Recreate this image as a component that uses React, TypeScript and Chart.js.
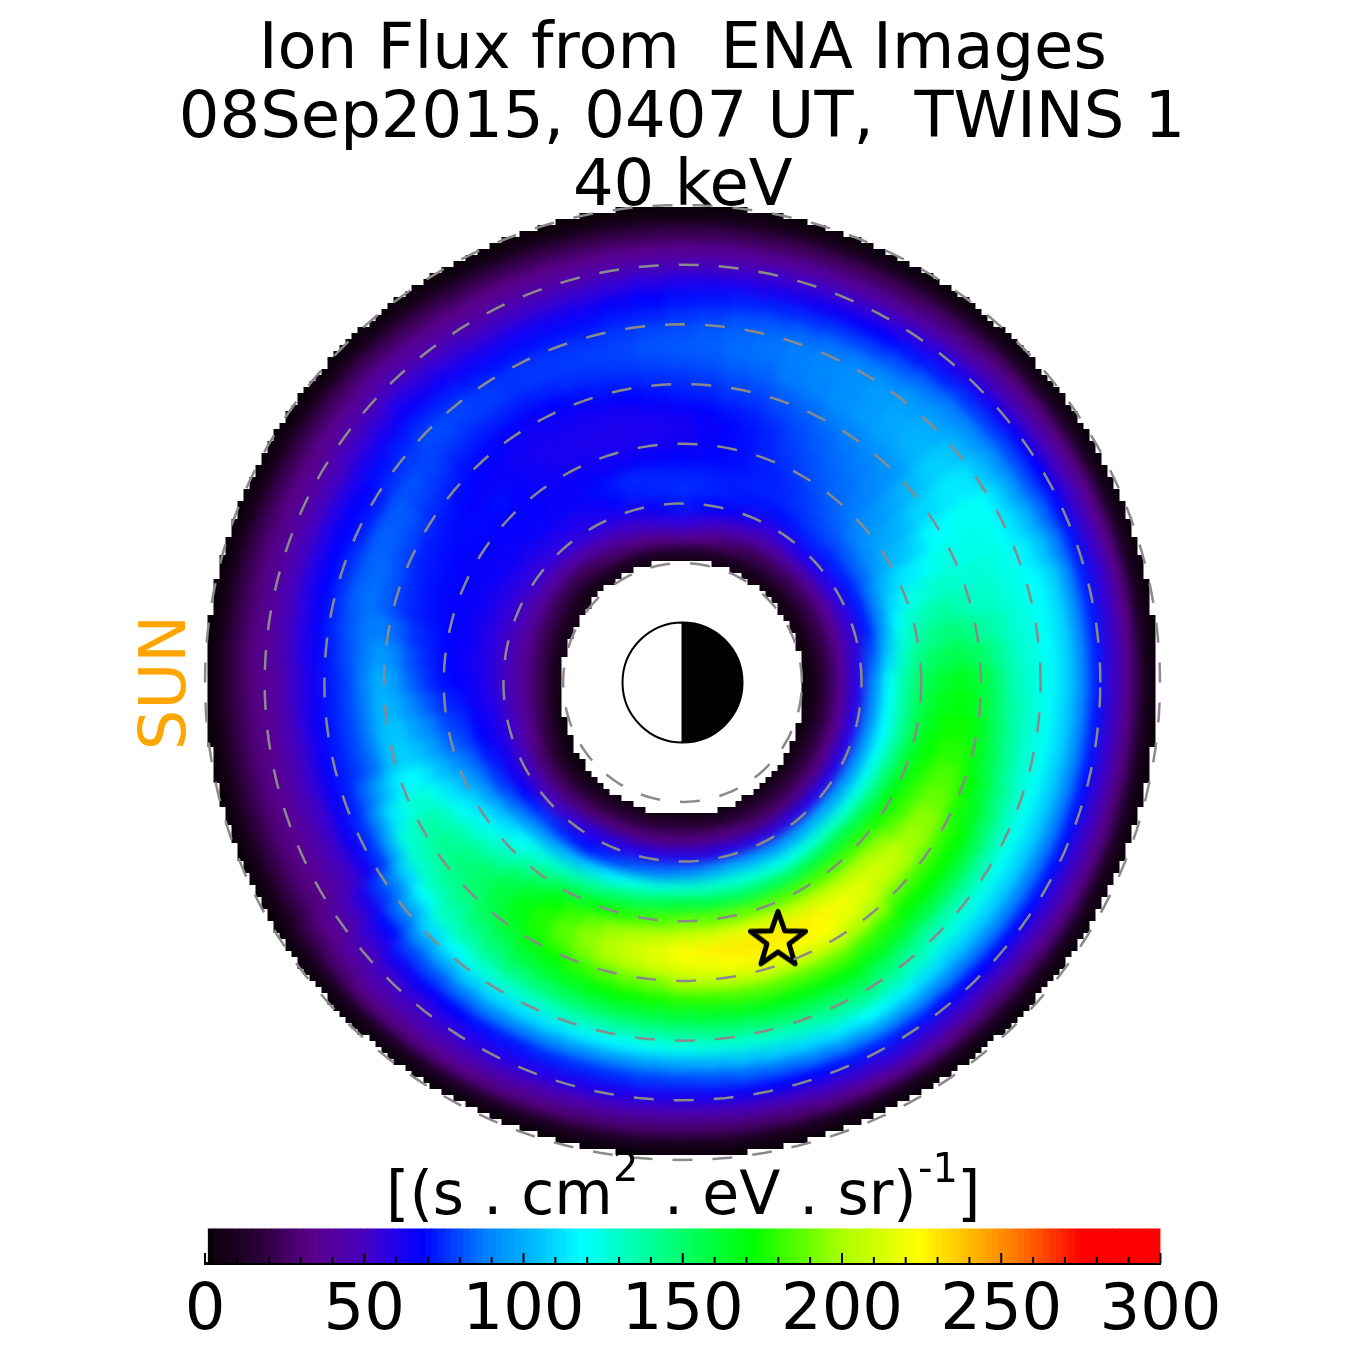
import React, { useEffect, useRef } from "react";
import { Chart, registerables } from "chart.js";

Chart.register(...registerables);

const FONT = "'DejaVu Sans'";
const titleLines = ["Ion Flux from  ENA Images", "", "40 keV"];
const titleSecondLine = "08Sep2015, 0407 UT,  TWINS 1";
const sunLabel = "SUN";
const unitParts = ["[(s . cm", "2", " . eV . sr)", "-1", "]"];
const colorTicks = [0, 50, 100, 150, 200, 250, 300];
const lShells = [2, 3, 4, 5, 6, 7, 8];
const starPos = [1.6, -4.32];

const cmapValues = [0, 4, 18, 34, 50, 58, 68, 88, 104, 118, 145, 172, 200, 224, 245, 260, 275, 300];
const cmapColors = [
  [0, 0, 0], [16, 0, 16], [45, 0, 60], [90, 0, 140], [70, 0, 190], [40, 0, 230], [0, 0, 255],
  [0, 128, 255], [0, 190, 255], [0, 255, 255], [0, 255, 128], [0, 255, 0], [170, 255, 0],
  [255, 255, 0], [255, 165, 0], [255, 90, 0], [255, 0, 0], [255, 0, 0],
];

// Flux per ring (radius in px of the picture), one value per 5 degrees clockwise from the top
const ring112 = [4,4,4,4,4,4,4,4,4,4,4,4,4,4,4,4,4,4,4,4,4,4,4,4,2,2,2,2,2,2,2,2,2,2,2,2,2,2,2,2,2,2,2,2,2,2,2,2,2,2,2,2,2,4,4,4,4,4,4,4,4,4,4,4,4,4,4,4,4,4,4,4];
const ring128 = [10,9,9,8,8,7,7,6,6,5,5,5,5,5,4,4,4,3,3,3,3,3,3,3,3,2,2,2,2,2,2,2,2,2,2,2,2,2,2,2,1,1,2,2,2,2,2,2,2,3,3,4,5,7,8,8,8,8,8,8,8,7,6,6,7,8,8,8,8,8,9,10];
const ring144 = [38,35,33,30,27,24,22,22,22,22,21,21,20,20,20,20,19,19,18,17,17,16,16,15,15,15,14,14,14,14,14,13,13,12,13,14,15,15,14,14,14,14,14,13,11,10,11,11,12,15,19,22,23,24,25,25,24,24,23,23,22,21,21,20,23,25,28,29,31,32,34,36];
const ring160 = [58,55,53,50,47,45,42,42,42,42,40,38,36,36,36,36,37,37,38,37,36,35,34,33,32,31,31,30,29,29,28,29,31,32,32,32,32,32,32,32,31,31,30,29,29,28,28,28,28,31,35,38,38,38,38,38,38,38,38,38,38,39,39,40,42,44,46,48,50,52,54,56];
const ring176 = [72,70,68,66,63,59,56,58,60,62,61,59,58,56,55,54,55,57,58,58,58,58,58,58,58,58,58,58,57,56,55,56,57,58,58,58,58,58,58,58,58,58,58,55,53,50,50,50,50,51,51,52,51,51,50,50,50,50,51,51,52,53,54,55,56,57,58,59,61,62,65,69];
const ring192 = [75,74,73,72,71,71,70,71,73,74,73,73,72,72,72,72,78,84,90,91,91,92,93,94,95,97,98,100,98,97,95,97,98,100,97,93,90,87,85,82,78,74,70,72,74,76,72,68,64,63,63,62,61,59,58,57,57,56,57,57,58,59,59,60,61,61,62,65,69,72,73,74];
const ring208 = [73,73,72,72,73,73,74,76,78,80,81,83,84,88,91,95,103,110,118,118,118,118,119,121,122,125,127,130,127,125,122,124,126,128,129,129,130,127,125,122,116,111,105,102,98,95,89,84,78,75,71,68,67,65,64,63,63,62,63,63,64,65,65,66,66,66,66,69,71,74,74,73];
const ring224 = [68,69,69,70,72,73,75,78,81,84,88,91,95,103,110,118,125,131,138,139,139,140,143,147,150,153,157,160,158,157,155,155,155,155,157,158,160,157,153,150,145,140,135,129,124,118,110,103,95,89,84,78,75,71,68,67,67,66,66,66,66,66,67,67,67,66,66,66,66,66,67,67];
const ring240 = [64,66,68,70,73,75,78,81,84,87,92,97,102,111,121,130,137,145,152,155,157,160,164,168,172,175,179,182,183,184,185,186,187,188,188,188,188,184,180,176,170,164,158,148,138,128,122,116,110,101,93,84,79,75,70,69,69,68,67,67,66,67,67,68,67,65,64,63,63,62,63,63];
const ring256 = [62,65,67,70,73,77,80,83,85,88,94,99,105,115,125,135,143,152,160,164,168,172,175,179,182,187,197,202,204,207,209,211,214,216,214,212,210,205,201,196,188,180,172,161,151,140,133,127,120,112,103,95,89,82,76,74,72,70,69,69,68,69,69,70,67,65,62,61,61,60,61,61];
const ring272 = [66,68,70,72,75,79,82,85,87,90,97,103,110,119,129,138,147,156,165,169,174,178,184,189,195,199,208,212,217,221,226,228,229,229,228,226,224,217,211,204,196,187,178,169,159,150,144,138,132,123,113,104,97,91,84,80,76,72,71,71,70,69,67,66,65,63,62,62,62,62,63,65];
const ring288 = [72,73,75,76,79,81,84,87,89,92,101,109,118,124,129,135,145,155,165,169,174,178,184,189,195,197,202,204,211,217,224,225,225,226,223,219,216,211,205,200,192,184,176,167,159,150,146,142,138,128,118,108,106,100,96,90,83,76,75,73,72,71,69,68,67,65,64,65,65,66,68,70];
const ring304 = [76,77,79,80,83,85,88,90,93,95,103,110,118,122,126,130,139,149,158,161,165,168,172,176,180,182,183,185,196,202,209,209,209,209,206,202,199,191,188,184,179,173,168,160,153,145,141,136,132,123,113,104,104,102,100,95,88,82,81,79,78,75,73,70,69,67,66,68,70,72,73,75];
const ring320 = [80,81,83,84,87,89,92,95,97,100,107,113,120,123,127,130,135,140,145,148,152,155,161,166,172,172,172,172,177,181,186,186,185,185,183,180,178,175,173,170,166,162,158,151,145,138,134,129,125,112,99,86,87,87,88,87,87,86,85,83,82,79,77,74,73,73,72,73,75,76,77,79];
const ring336 = [82,83,85,86,88,90,92,95,99,102,108,114,120,122,124,126,128,130,132,135,137,140,145,150,155,156,157,158,162,166,170,169,169,168,165,163,160,158,157,155,152,148,145,140,135,130,119,109,98,91,85,78,78,78,78,80,82,84,83,83,82,81,79,78,77,77,76,77,77,78,79,81];
const ring352 = [80,82,84,86,88,90,92,95,97,100,106,112,118,119,121,122,123,125,126,127,127,128,131,133,136,137,137,138,144,149,155,153,152,150,147,145,142,140,137,135,133,130,128,125,118,112,100,88,76,75,73,72,72,72,72,73,75,76,75,73,72,75,77,80,79,77,76,76,76,76,77,79];
const ring368 = [75,77,80,82,84,86,88,90,93,95,99,104,108,111,115,118,119,119,120,120,120,120,120,120,120,122,123,125,130,135,140,137,133,130,127,125,122,120,117,115,113,112,110,107,100,94,84,77,64,65,65,66,65,65,64,65,67,68,68,68,68,70,72,74,73,71,70,70,70,70,72,73];
const ring384 = [70,71,73,74,75,77,78,81,85,88,90,93,95,100,105,110,110,110,110,109,109,108,108,108,108,108,108,108,111,115,118,115,111,108,105,101,98,96,94,92,91,89,88,85,81,78,69,61,52,53,53,54,54,55,55,57,58,60,60,60,60,62,64,66,65,63,62,63,63,64,66,68];
const ring400 = [60,61,61,62,64,66,68,71,73,76,77,79,80,84,88,92,92,92,92,91,91,90,89,89,88,88,88,88,90,93,95,92,88,85,83,80,78,77,75,74,73,71,70,68,66,64,57,51,44,44,44,44,44,44,44,46,48,50,50,50,50,53,55,58,56,54,52,53,53,54,56,58];
const ring416 = [48,49,51,52,53,54,55,57,60,62,64,66,68,69,71,72,72,72,72,71,71,70,70,70,70,69,69,68,69,71,72,71,69,68,66,64,62,61,61,60,59,59,58,56,54,52,47,41,36,36,36,36,36,36,36,37,39,40,40,40,40,43,45,48,46,44,42,43,43,44,45,47];
const ring432 = [36,37,37,38,39,39,40,42,44,46,47,49,50,52,53,55,54,53,52,52,52,52,52,52,52,51,51,50,52,53,55,53,52,50,49,47,46,46,46,46,46,47,47,46,45,44,39,35,30,30,30,30,30,30,30,31,31,32,32,33,33,35,36,38,37,35,34,34,34,34,35,35];
const ring448 = [22,23,23,24,24,25,25,27,28,30,31,32,33,34,34,35,34,33,32,32,32,32,33,33,34,33,31,30,32,34,36,34,32,30,29,29,28,29,29,30,31,32,33,33,32,32,28,24,20,20,20,20,20,20,20,21,21,22,22,22,22,23,24,25,24,23,22,22,22,22,22,22];
const ring464 = [6,6,7,7,7,8,8,8,8,8,8,8,8,8,8,8,8,8,8,8,8,8,8,8,8,8,8,8,8,8,8,8,8,8,8,8,8,8,8,8,8,8,8,8,8,8,8,8,6,6,6,6,6,6,6,6,6,6,6,6,6,6,6,7,7,7,6,6,6,6,6,6];
const ring480 = [1,1,1,1,1,1,1,1,1,1,1,1,1,1,1,1,1,1,1,1,1,1,1,1,1,1,1,1,1,1,1,1,1,1,1,1,1,1,1,1,1,1,1,1,1,1,1,1,1,1,1,1,1,1,1,1,1,1,1,1,1,1,1,1,1,1,1,1,1,1,1,1];
const ringsOuterFirst = [ring480, ring464, ring448, ring432, ring416, ring400, ring384, ring368, ring352, ring336, ring320, ring304, ring288, ring272, ring256, ring240, ring224, ring208, ring192, ring176, ring160, ring144, ring128, ring112];

function fluxColor(v: number): string {
  let i = 0;
  while (i < cmapValues.length - 2 && v > cmapValues[i + 1]) i++;
  const t = Math.min(1, Math.max(0, (v - cmapValues[i]) / (cmapValues[i + 1] - cmapValues[i])));
  const a = cmapColors[i], b = cmapColors[i + 1];
  return `rgb(${Math.round(a[0] + (b[0] - a[0]) * t)},${Math.round(a[1] + (b[1] - a[1]) * t)},${Math.round(a[2] + (b[2] - a[2]) * t)})`;
}

// The image is made of small cells, so its rim is a staircase
function cellMask(): string {
  const cx = 681.5, cy = 681, cell = 6, half = 80;
  let d = "";
  for (let j = -half; j < half; j++) {
    let start: number | null = null;
    for (let i = -half; i <= half; i++) {
      const dx = (i + 0.5) * cell, dy = (j + 0.5) * cell;
      const hx = (cx + dx - 682) / 121, hy = (cy + dy - 688) / 128;
      const on = i < half && Math.hypot(dx, dy) <= 476 && hx * hx + hy * hy > 1;
      if (on && start === null) start = i;
      if (!on && start !== null) {
        d += `M${cx + start * cell} ${cy + j * cell}H${cx + i * cell}V${cy + (j + 1) * cell}H${cx + start * cell}Z`;
        start = null;
      }
    }
  }
  return `path("${d}")`;
}

function makeStar(): HTMLCanvasElement {
  const c = document.createElement("canvas");
  c.width = 76; c.height = 76;
  const g = c.getContext("2d")!;
  g.beginPath();
  for (let i = 0; i < 10; i++) {
    const r = i % 2 === 0 ? 29 : 11.6;
    const a = (i * Math.PI) / 5 - Math.PI / 2;
    const x = 38 + r * Math.cos(a), y = 38 + r * Math.sin(a);
    if (i === 0) g.moveTo(x, y); else g.lineTo(x, y);
  }
  g.closePath();
  g.lineWidth = 5; g.lineJoin = "round"; g.strokeStyle = "#000";
  g.stroke();
  return c;
}

const SIZE = 1365;
const baseOpts = { animation: false as const, responsive: false, devicePixelRatio: 1, events: [] as string[] };
const noPlugins = { legend: { display: false }, tooltip: { enabled: false } };

export default function App() {
  const heatRef = useRef<HTMLCanvasElement>(null);
  const earthRef = useRef<HTMLCanvasElement>(null);
  const overlayRef = useRef<HTMLCanvasElement>(null);
  const barRef = useRef<HTMLCanvasElement>(null);

  useEffect(() => {
    Chart.defaults.font.family = FONT;

    const heat = new Chart(heatRef.current!, {
      type: "doughnut",
      data: {
        labels: ring128.map((_, i) => String(i * 5)),
        datasets: ringsOuterFirst.map((ring) => ({
          data: ring.map(() => 1),
          backgroundColor: ring.map(fluxColor),
          borderColor: ring.map(fluxColor),
          borderWidth: 1,
        })),
      },
      options: {
        ...baseOpts,
        rotation: -2.5,
        radius: 488,
        cutout: 104,
        layout: { padding: { left: 193.5, right: 195.5, top: 193, bottom: 196 } },
        plugins: noPlugins,
      },
    } as any);

    const earth = new Chart(earthRef.current!, {
      type: "doughnut",
      data: {
        labels: ["night", "day"],
        datasets: [{ data: [1, 1], backgroundColor: ["#000", "#fff"], borderColor: "#000", borderWidth: 2 }],
      },
      options: {
        ...baseOpts,
        radius: 60,
        cutout: 0,
        layout: { padding: { left: 622.5, right: 622.5, top: 622.5, bottom: 622.5 } },
        plugins: noPlugins,
      },
    } as any);

    const circleSets = lShells.map((l) => {
      const pts = [];
      for (let d = 0; d <= 360; d += 2) {
        pts.push({ x: l * Math.cos((d * Math.PI) / 180), y: l * Math.sin((d * Math.PI) / 180) });
      }
      return {
        data: pts, showLine: true, pointRadius: 0, borderColor: "#8a8a8a", borderWidth: 2.5,
        borderDash: [20, 20], clip: false, tension: 0,
      };
    });

    const overlay = new Chart(overlayRef.current!, {
      type: "scatter",
      data: {
        datasets: [
          ...circleSets,
          { data: [{ x: starPos[0], y: starPos[1] }], pointStyle: makeStar(), pointRadius: 38, showLine: false, clip: false },
        ],
      },
      options: {
        ...baseOpts,
        layout: { padding: { left: 128, right: 205, top: 205, bottom: 205 } },
        plugins: noPlugins,
        scales: {
          x: { type: "linear", min: -8, max: 8, display: false },
          y: {
            type: "linear", min: -8, max: 8,
            ticks: { display: false }, grid: { display: false }, border: { display: false },
            title: { display: true, text: sunLabel, color: "#ffa500", padding: { top: 2, bottom: 0 }, font: { size: 64, family: FONT } },
            afterFit: (s: any) => { s.width = 77; },
          },
        },
      },
    } as any);

    const barSets = [];
    for (let v = 1; v < 300; v += 2) {
      barSets.push({
        data: [[v, Math.min(300, v + 2)]], backgroundColor: fluxColor(v + 1), grouped: false,
        barPercentage: 1, categoryPercentage: 1,
      });
    }
    const colorMarks = {
      id: "colorMarks",
      afterDatasetsDraw(chart: any) {
        const { ctx, scales, chartArea } = chart;
        ctx.save();
        ctx.strokeStyle = "#000"; ctx.lineWidth = 2;
        for (let v = 0; v <= 300; v += 10) {
          const x = scales.x.getPixelForValue(v);
          ctx.beginPath();
          ctx.moveTo(x, chartArea.bottom);
          ctx.lineTo(x, chartArea.bottom - (v % 50 === 0 ? 10 : 6));
          ctx.stroke();
        }
        ctx.fillStyle = "#000"; ctx.textBaseline = "alphabetic"; ctx.textAlign = "left";
        const at = [[386, 1214, 60], [613, 1181, 40], [645, 1214, 60], [918, 1182, 40], [957, 1214, 60]];
        unitParts.forEach((t, i) => {
          ctx.font = `${at[i][2]}px ${FONT}`;
          ctx.fillText(t, at[i][0], at[i][1]);
        });
        ctx.font = `64px ${FONT}`;
        ctx.textAlign = "center";
        ctx.fillText(titleSecondLine, 682, 136.7);
        ctx.restore();
      },
    };
    const bar = new Chart(barRef.current!, {
      type: "bar",
      data: { labels: [""], datasets: barSets },
      options: {
        ...baseOpts,
        indexAxis: "y",
        layout: { padding: { left: 205, right: 204.5, top: 0, bottom: 0 } },
        plugins: {
          ...noPlugins,
          title: {
            display: true, text: titleLines, color: "#000",
            padding: { top: 17, bottom: 1006 },
            font: { size: 64, family: FONT, weight: "normal", lineHeight: 1.07 },
          },
        },
        scales: {
          x: {
            type: "linear", min: 0, max: 300, position: "bottom",
            grid: { display: false }, border: { display: true, color: "#000", width: 3 },
            ticks: {
              stepSize: 50, color: "#000", padding: 3, maxRotation: 0, autoSkip: false,
              font: { size: 64, family: FONT },
              callback: (v: number) => (colorTicks.includes(v) ? String(v) : ""),
            },
            afterFit: (s: any) => { s.height = 102; },
          },
          y: { display: false },
        },
      },
      plugins: [colorMarks],
    } as any);

    return () => { heat.destroy(); earth.destroy(); overlay.destroy(); bar.destroy(); };
  }, []);

  const st: React.CSSProperties = { position: "absolute", left: 0, top: 0, width: SIZE, height: SIZE };
  return (
    <div style={{ position: "absolute", left: 0, top: 0, width: SIZE, height: SIZE, background: "#fff", overflow: "hidden" }}>
      <div style={{ ...st, clipPath: cellMask() }}>
        <canvas ref={heatRef} width={SIZE} height={SIZE} style={{ ...st, filter: "blur(6px)" }} />
      </div>
      <canvas ref={earthRef} width={SIZE} height={SIZE} style={st} />
      <canvas ref={overlayRef} width={SIZE} height={SIZE} style={st} />
      <canvas ref={barRef} width={SIZE} height={SIZE} style={st} />
    </div>
  );
}
